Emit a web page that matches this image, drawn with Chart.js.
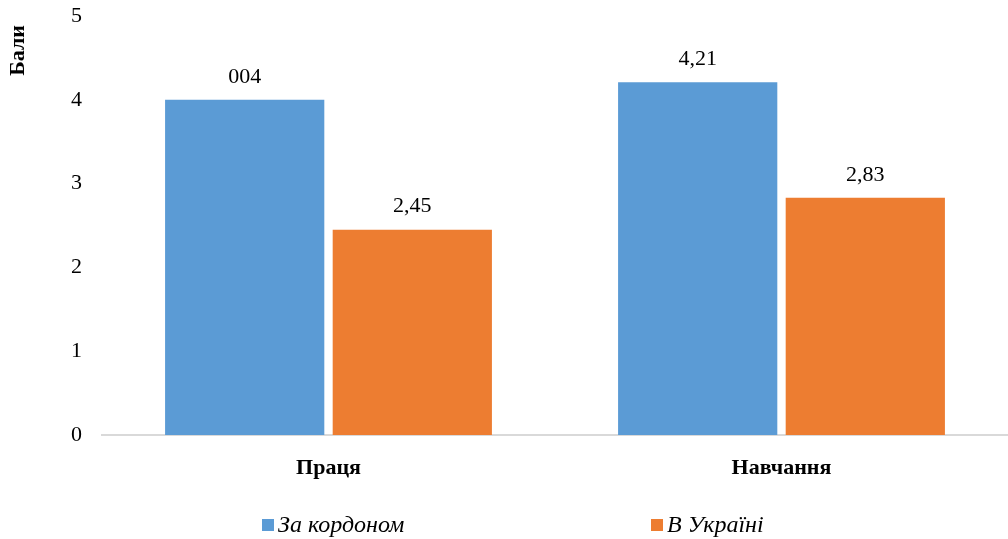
<!DOCTYPE html>
<html>
<head>
<meta charset="utf-8">
<script src="https://cdn.jsdelivr.net/npm/chart.js@4"></script>
<style>
  html, body { margin: 0; padding: 0; background: #fff; }
  #wrap { width: 1008px; height: 539px; }
</style>
</head>
<body>
<div id="wrap"><canvas id="myChart"></canvas></div>
<script>
const categories = ['Праця', 'Навчання'];
const seriesNames = ['За кордоном', 'В Україні'];
const abroadValues = [4.0, 4.21];
const ukraineValues = [2.45, 2.83];
// labels as printed on the chart (the first one really reads "004")
const abroadLabels = ['004', '4,21'];
const ukraineLabels = ['2,45', '2,83'];
const yTicks = [0, 1, 2, 3, 4, 5];
const yTitle = 'Бали';

const colors = ['#5B9BD5', '#ED7D31'];
const serif = '"Liberation Serif", "DejaVu Serif", serif';

// value labels above each bar
const barLabels = {
  id: 'barLabels',
  afterDatasetsDraw(chart) {
    const ctx = chart.ctx;
    const texts = [abroadLabels, ukraineLabels];
    ctx.save();
    ctx.font = '22px ' + serif;
    ctx.fillStyle = '#000';
    ctx.textAlign = 'center';
    ctx.textBaseline = 'bottom';
    chart.data.datasets.forEach((ds, i) => {
      chart.getDatasetMeta(i).data.forEach((bar, j) => {
        ctx.fillText(texts[i][j], bar.x, bar.y - 12);
      });
    });
    ctx.restore();
  }
};

// legend + axis title drawn by hand (legend items sit far apart)
const extras = {
  id: 'extras',
  afterDraw(chart) {
    const ctx = chart.ctx;
    const box = 12;
    const itemX = [262, 651];
    const y = chart.height - 14;
    ctx.save();
    ctx.font = 'italic 24px ' + serif;
    ctx.textBaseline = 'middle';
    seriesNames.forEach((n, i) => {
      ctx.fillStyle = colors[i];
      ctx.fillRect(itemX[i], y - box / 2, box, box);
      ctx.fillStyle = '#000';
      ctx.fillText(n, itemX[i] + box + 4, y + 1);
    });
    ctx.restore();

    ctx.save();
    ctx.translate(18, 25);
    ctx.rotate(-Math.PI / 2);
    ctx.font = 'bold 22px ' + serif;
    ctx.fillStyle = '#000';
    ctx.textAlign = 'right';
    ctx.textBaseline = 'middle';
    ctx.fillText(yTitle, 0, 0);
    ctx.restore();
  }
};

const ctx = document.getElementById('myChart').getContext('2d');

const chart = new Chart(ctx, {
  type: 'bar',
  data: {
    labels: categories,
    datasets: [
      {
        label: seriesNames[0],
        data: abroadValues,
        backgroundColor: colors[0],
        categoryPercentage: 0.74,
        barPercentage: 0.95
      },
      {
        label: seriesNames[1],
        data: ukraineValues,
        backgroundColor: colors[1],
        categoryPercentage: 0.74,
        barPercentage: 0.95
      }
    ]
  },
  options: {
    responsive: true,
    maintainAspectRatio: false,
    animation: false,
    layout: { padding: { top: 0, right: -12, left: 0, bottom: 0 } },
    plugins: {
      legend: { display: false },
      tooltip: { enabled: false }
    },
    scales: {
      x: {
        grid: { display: false },
        border: { color: '#d9d9d9', width: 2 },
        ticks: {
          color: '#000',
          padding: 12,
          font: { family: serif, size: 22, weight: 'bold' }
        },
        afterFit: (s) => { s.height = 104; }
      },
      y: {
        min: 0,
        max: 5,
        afterBuildTicks: (s) => { s.ticks = yTicks.map(v => ({ value: v })); },
        grid: { display: false },
        border: { display: false },
        ticks: {
          color: '#000',
          padding: 12,
          font: { family: serif, size: 22 }
        },
        afterFit: (s) => {
          s.width = 102;
          s.paddingTop = 16;
          s.paddingBottom = 0;
        }
      }
    }
  },
  plugins: [barLabels, extras]
});
</script>
</body>
</html>
